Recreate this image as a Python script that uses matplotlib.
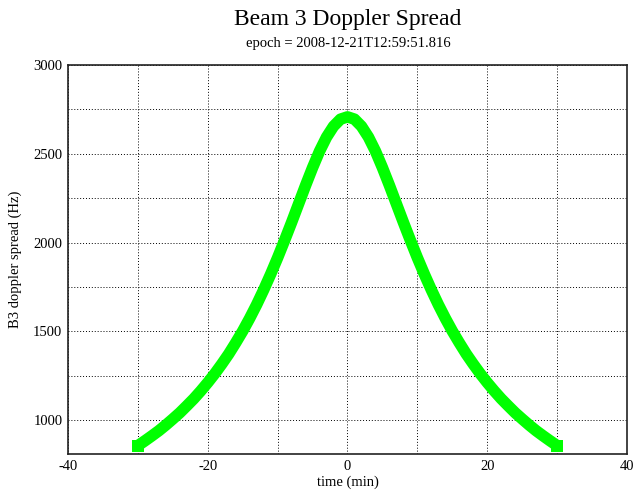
import matplotlib
matplotlib.use("Agg")
import matplotlib.pyplot as plt
from matplotlib.ticker import MultipleLocator, FuncFormatter

plt.rcParams['font.family'] = ['Liberation Serif', 'DejaVu Serif']
plt.rcParams['axes.unicode_minus'] = False

# time (min) and doppler spread (Hz)
time_min = list(range(-30, 31))
spread_right = [2708, 2695, 2655, 2594, 2515, 2422, 2322, 2218, 2114, 2013,
                1915, 1822, 1734, 1651, 1574, 1502, 1436, 1373, 1316, 1262,
                1212, 1165, 1121, 1081, 1042, 1007, 973, 941, 912, 884, 857]
spread_hz = spread_right[:0:-1] + spread_right

title = "Beam 3 Doppler Spread"
subtitle = "epoch = 2008-12-21T12:59:51.816"
xlabel = "time (min)"
ylabel = "B3 doppler spread (Hz)"

fig = plt.figure(figsize=(6.35, 4.95), dpi=100)
ax = fig.add_axes([68/635, 41/495, 559/635, 389/495])

ax.plot(time_min, spread_hz, color='#00ff00', lw=8.3, solid_capstyle='butt',
        marker='s', markersize=8.0, markevery=[0, len(time_min) - 1],
        markeredgewidth=0, zorder=3)

ax.set_xlim(-40, 40)
ax.set_ylim(810, 3000)
ax.xaxis.set_major_locator(MultipleLocator(10))
ax.yaxis.set_major_locator(MultipleLocator(250))
ax.xaxis.set_major_formatter(FuncFormatter(lambda v, p: f"{v:.0f}" if round(v) % 20 == 0 else ""))
ax.yaxis.set_major_formatter(FuncFormatter(lambda v, p: f"{v:.0f}" if round(v) % 500 == 0 else ""))
ax.tick_params(which='both', length=0, labelsize=10.5, pad=4)
ax.grid(which='major', color='black', linestyle=(0, (1, 2)), linewidth=0.7)
for s in ax.spines.values():
    s.set_linewidth(1.2)
    s.set_color('#222222')
    s.set_zorder(4)

ax.set_xlabel(xlabel, fontsize=10.5, labelpad=2)
ax.set_ylabel(ylabel, fontsize=10.5, labelpad=8)

fig.text(348/635, 1 - 19/495, title, ha='center', va='center', fontsize=17)
fig.text(348/635, 1 - 44/495, subtitle, ha='center', va='center', fontsize=10.5)

fig.savefig("out.png", dpi=100)
